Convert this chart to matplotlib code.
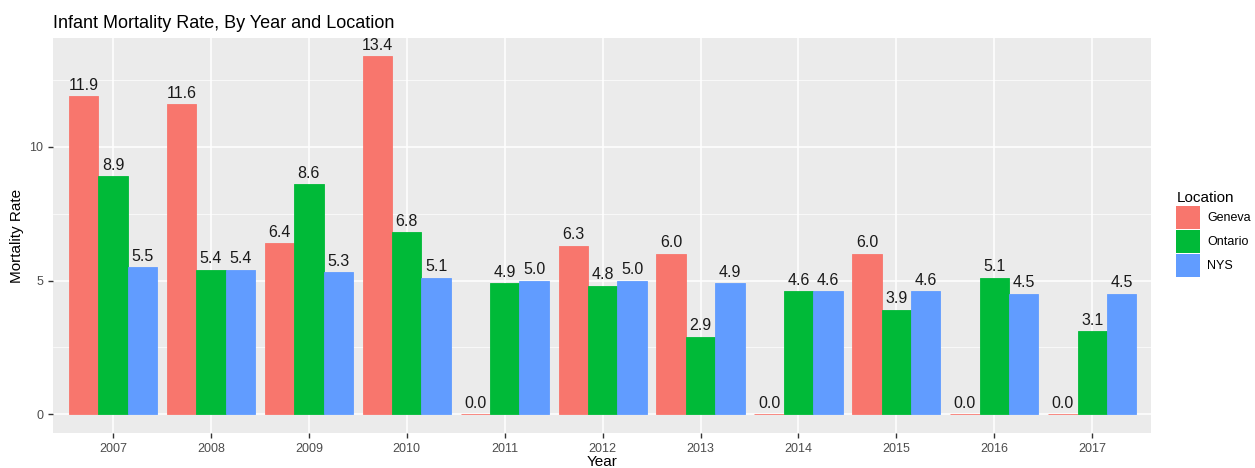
import numpy as np
import matplotlib
matplotlib.use('Agg')
import matplotlib.pyplot as plt
from matplotlib.ticker import MultipleLocator
from matplotlib.patches import Patch

plt.rcParams['font.family'] = ['Liberation Sans', 'DejaVu Sans']

years = [2007, 2008, 2009, 2010, 2011, 2012, 2013, 2014, 2015, 2016, 2017]
locations = ['Geneva', 'Ontario', 'NYS']
geneva = [11.9, 11.6, 6.4, 13.4, 0.0, 6.3, 6.0, 0.0, 6.0, 0.0, 0.0]
ontario = [8.9, 5.4, 8.6, 6.8, 4.9, 4.8, 2.9, 4.6, 3.9, 5.1, 3.1]
nys = [5.5, 5.4, 5.3, 5.1, 5.0, 5.0, 4.9, 4.6, 4.6, 4.5, 4.5]
colors = ['#F8766D', '#00BA38', '#619CFF']

fig = plt.figure(figsize=(12.55, 4.68), dpi=100)
ax = fig.add_axes([53 / 1255, 1 - 433 / 468, (1151 - 53) / 1255, (433 - 38) / 468])
ax.set_facecolor('#EBEBEB')

x = np.array(years, dtype=float)
width = 0.3
for i, (vals, col) in enumerate(zip([geneva, ontario, nys], colors)):
    pos = x + (i - 1) * width
    ax.bar(pos, vals, width=width, color=col, edgecolor=col, linewidth=0.6, zorder=3)
    for p, v in zip(pos, vals):
        ax.annotate(f'{v:.1f}', (p, v), xytext=(0, 2.5), textcoords='offset points',
                    ha='center', va='bottom', fontsize=11.5, color='#1A1A1A', zorder=4)

ax.set_xlim(2007 - 0.613, 2017 + 0.6)
ax.set_ylim(-0.71, 14.08)
ax.set_xticks(years)
ax.yaxis.set_major_locator(MultipleLocator(5))
ax.yaxis.set_minor_locator(MultipleLocator(2.5))
ax.grid(which='major', color='white', linewidth=1.1, zorder=0)
ax.grid(which='minor', axis='y', color='white', linewidth=0.5, zorder=0)
ax.set_axisbelow(True)
for s in ax.spines.values():
    s.set_visible(False)
ax.tick_params(axis='both', which='major', length=3.5, color='#333333',
               labelcolor='#4D4D4D', labelsize=9, width=1)
ax.tick_params(axis='y', which='minor', length=0)

ax.set_xlabel('Year', fontsize=11, labelpad=0)
ax.set_ylabel('Mortality Rate', fontsize=11, labelpad=4)
ax.set_title('Infant Mortality Rate, By Year and Location', loc='left', fontsize=13, pad=7)

handles = [Patch(facecolor=c, edgecolor='none') for c in colors]
leg = fig.legend(handles, locations, title='Location', loc='upper left',
                 bbox_to_anchor=(1165 / 1255, 1 - 180 / 468), frameon=False,
                 fontsize=9, title_fontsize=11, handlelength=1.9, handleheight=2.5,
                 handletextpad=0.6, labelspacing=0.05)
leg._legend_box.align = 'left'

fig.savefig('out.png', dpi=100)
